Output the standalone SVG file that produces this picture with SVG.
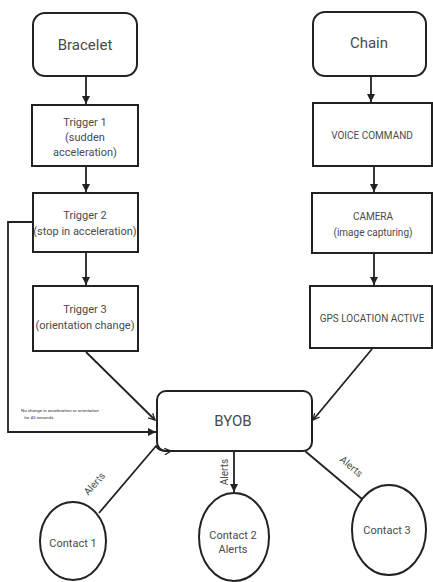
<svg xmlns="http://www.w3.org/2000/svg" width="433" height="582" viewBox="0 0 433 582">
<style>
.box{fill:#fff;stroke:#222;stroke-width:2}
.ln{fill:none;stroke:#222;stroke-width:1.8}
.t{font-family:Roboto,"Liberation Sans",sans-serif;fill:#4a4a4a;text-anchor:middle}
.big{font-size:15px}
.mid{font-size:11px}
.sm{font-size:10px}
.tiny{font-size:4.4px;text-anchor:start;fill:#333}
</style>
<defs>
<marker id="arr" viewBox="0 0 10 10" refX="10" refY="5" markerWidth="8" markerHeight="8" markerUnits="userSpaceOnUse" orient="auto">
<path d="M0,0 L10,5 L0,10 Z" fill="#222"/>
</marker>
<marker id="open" viewBox="0 0 10 10" refX="9" refY="5" markerWidth="8" markerHeight="8" markerUnits="userSpaceOnUse" orient="auto">
<path d="M1,1 L9,5 L1,9" fill="none" stroke="#222" stroke-width="1.6"/>
</marker>
</defs>
<rect width="433" height="582" fill="#fff"/>
<g id="bracelet">
<rect class="box" x="33" y="13" width="104" height="63" rx="12"/>
<text class="t big" x="85" y="50">Bracelet</text>
</g>
<g id="trigger1">
<rect class="box" x="32" y="105" width="106" height="61"/>
<text class="t mid" x="85" y="126">Trigger 1</text>
<text class="t mid" x="85" y="141">(sudden</text>
<text class="t mid" x="85" y="156">acceleration)</text>
</g>
<g id="trigger2">
<rect class="box" x="33" y="193" width="105" height="59"/>
<text class="t mid" x="85" y="219">Trigger 2</text>
<text class="t mid" x="85" y="235">(stop in acceleration)</text>
</g>
<g id="trigger3">
<rect class="box" x="33" y="286" width="105" height="65"/>
<text class="t mid" x="85" y="313">Trigger 3</text>
<text class="t mid" x="85" y="329">(orientation change)</text>
</g>
<g id="chain">
<rect class="box" x="313" y="12" width="113" height="64" rx="12"/>
<text class="t big" x="369" y="48">Chain</text>
</g>
<g id="voice">
<rect class="box" x="313" y="103" width="119" height="63"/>
<text class="t sm" x="372" y="139">VOICE COMMAND</text>
</g>
<g id="camera">
<rect class="box" x="312" y="193" width="120" height="60"/>
<text class="t sm" x="373" y="220">CAMERA</text>
<text class="t sm" x="373" y="236">(image capturing)</text>
</g>
<g id="gps">
<rect class="box" x="310" y="286" width="122" height="62"/>
<text class="t sm" x="372" y="322">GPS LOCATION ACTIVE</text>
</g>
<g id="byob">
<rect class="box" x="157" y="391" width="155" height="60" rx="9"/>
<text class="t big" x="233" y="426">BYOB</text>
</g>
<g id="contact1">
<ellipse class="box" cx="73" cy="541" rx="33" ry="39"/>
<text class="t mid" x="73" y="547">Contact 1</text>
</g>
<g id="contact2">
<ellipse class="box" cx="234" cy="537" rx="35" ry="44"/>
<text class="t mid" x="233" y="539">Contact 2</text>
<text class="t mid" x="233" y="553">Alerts</text>
</g>
<g id="contact3">
<ellipse class="box" cx="389" cy="530" rx="37" ry="45"/>
<text class="t mid" x="387" y="534">Contact 3</text>
</g>
<g id="connectors">
<line class="ln" x1="86" y1="77" x2="86" y2="104" marker-end="url(#arr)"/>
<line class="ln" x1="86" y1="167" x2="86" y2="192" marker-end="url(#arr)"/>
<line class="ln" x1="86" y1="253" x2="86" y2="285" marker-end="url(#arr)"/>
<line class="ln" x1="371" y1="77" x2="371" y2="102" marker-end="url(#arr)"/>
<line class="ln" x1="374" y1="167" x2="374" y2="192" marker-end="url(#arr)"/>
<line class="ln" x1="374" y1="254" x2="374" y2="285" marker-end="url(#arr)"/>
<line class="ln" x1="86" y1="352" x2="155" y2="420" marker-end="url(#open)"/>
<line class="ln" x1="372" y1="349" x2="313" y2="420" marker-end="url(#open)"/>
<polyline class="ln" points="32,222 8,222 8,432 156,432" marker-end="url(#arr)"/>
<path class="ln" d="M99,513 L156,446 Q159,452 171,451" marker-end="url(#open)"/>
<line class="ln" x1="234" y1="452" x2="234" y2="492" marker-end="url(#arr)"/>
<line class="ln" x1="305" y1="451" x2="362" y2="499"/>
<text class="t sm" transform="translate(97,486) rotate(-48)">Alerts</text>
<text class="t sm" transform="translate(228,472) rotate(-90)">Alerts</text>
<text class="t sm" transform="translate(349,469) rotate(40)">Alerts</text>
<text class="t tiny" x="21" y="412">No change in acceleration or orientation</text>
<text class="t tiny" x="24" y="419">for 45 seconds.</text>
</g>
</svg>
